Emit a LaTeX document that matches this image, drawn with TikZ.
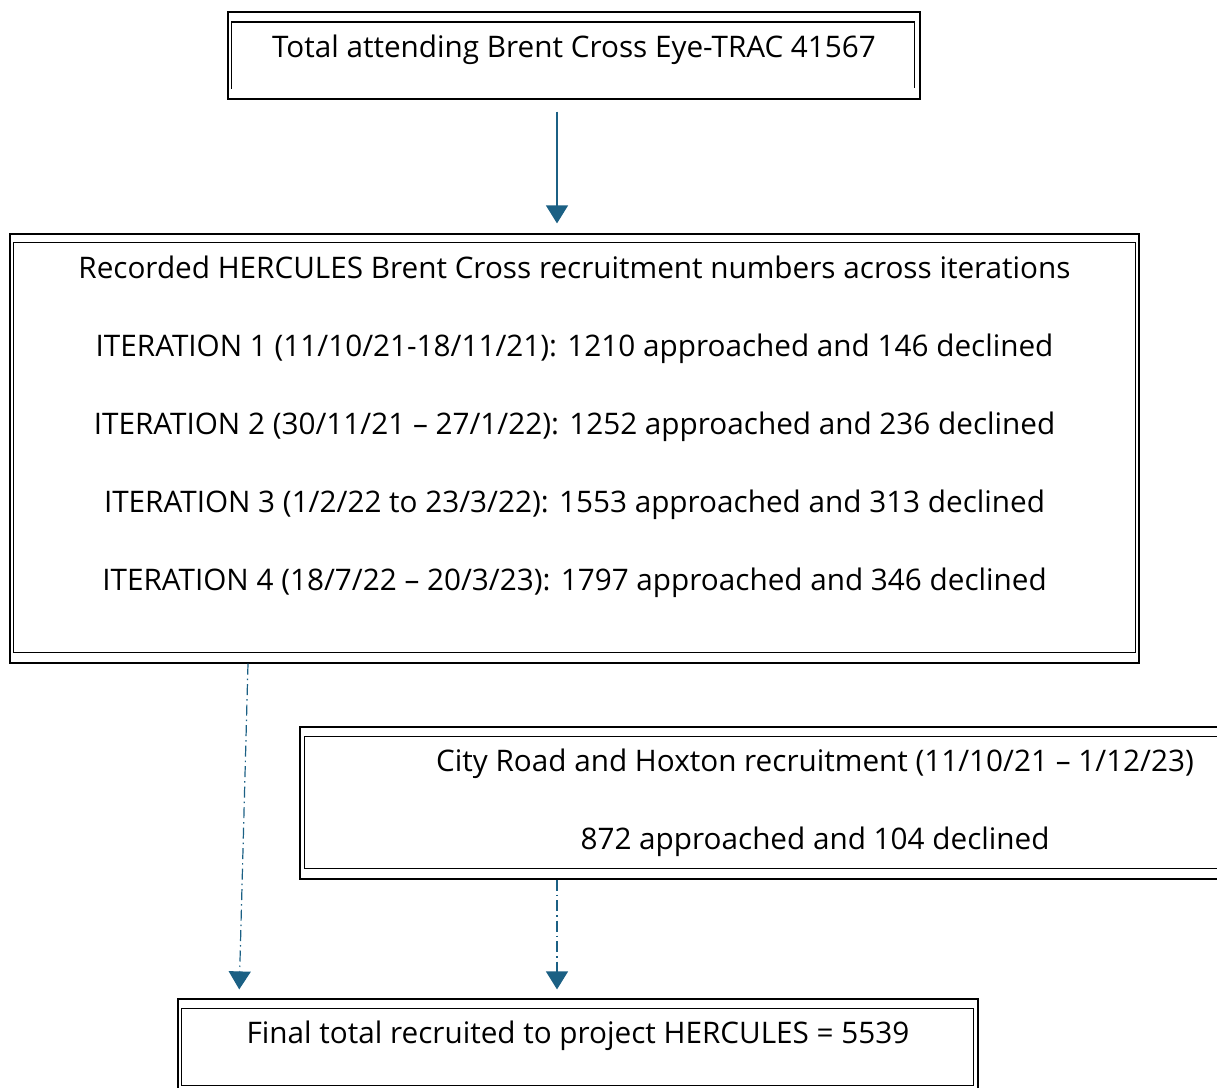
\documentclass[tikz,border=0pt]{standalone}
\usepackage{fontspec}
\setmainfont{Open Sans}
\usetikzlibrary{arrows.meta, positioning}
\definecolor{arrowblue}{RGB}{27,96,132}

\begin{document}
\begin{tikzpicture}[x=0.5pt, y=-0.5pt,
  box/.style = {rectangle, draw, line width=0.6pt, inner sep=0pt},
  inbox/.style = {line width=0.55pt},
  txt/.style = {font=\fontsize{14.85pt}{17pt}\selectfont, inner sep=0pt, anchor=base},
  arrow/.style = {draw=arrowblue, line width=0.6pt, -{Triangle[width=11pt,length=9pt]}},
  dasharrow/.style = {arrow, dash pattern=on 5.5pt off 2pt on 0.75pt off 2pt}
                    ]
\useasboundingbox (0,0) rectangle (1217,1088);
\node (total) [box, minimum width=346pt, minimum height=43.5pt] at (574,55.5) {};
\node (main)  [box, minimum width=564.5pt, minimum height=214.5pt] at (574.5,448.5) {};
\node (city)  [box, minimum width=515pt, minimum height=76pt] at (815,803) {};
\node (final) [box, minimum width=400pt, minimum height=45.5pt] at (578,1044.5) {};
% inner lines of the boxes
\draw [inbox] ([xshift=2pt]total.south west) ++(0,5.5pt) |- ([xshift=-3pt,yshift=-5.3pt]total.north east) -- ++(0,-33pt);
\draw [inbox] ([xshift=2pt,yshift=-4.5pt]main.north west) rectangle ([xshift=-2pt,yshift=5.5pt]main.south east);
\draw [inbox] ([xshift=2.5pt,yshift=-5pt]city.north west) rectangle ([xshift=-2.5pt,yshift=5.5pt]city.south east);
\draw [inbox] ([xshift=2pt,yshift=-5pt]final.north west) rectangle ([xshift=-2.5pt,yshift=2.5pt]final.south east);
% texts
\node (totalT) [txt] at (574,57) {Total attending Brent Cross Eye-TRAC 41567};
\node (rec)  [txt] at (574.5,278) {Recorded HERCULES Brent Cross recruitment numbers across iterations};
\node (it1)  [txt] at (574.5,356) {ITERATION 1 (11/10/21-18/11/21): 1210 approached and 146 declined};
\node (it2)  [txt] at (574.5,434) {ITERATION 2 (30/11/21 – 27/1/22): 1252 approached and 236 declined};
\node (it3)  [txt] at (574.5,512) {ITERATION 3 (1/2/22 to 23/3/22): 1553 approached and 313 declined};
\node (it4)  [txt] at (574.5,590) {ITERATION 4 (18/7/22 – 20/3/23): 1797 approached and 346 declined};
\node (cityT)  [txt] at (815,771) {City Road and Hoxton recruitment (11/10/21 – 1/12/23)};
\node (cityN)  [txt] at (815,849) {872 approached and 104 declined};
\node (finalT) [txt] at (578,1043) {Final total recruited to project HERCULES = 5539};
% connections
\draw [arrow, shorten <=6pt, shorten >=5pt] ([xshift=-8.5pt]total.south) -- ([xshift=-8.75pt]main.north);
\draw [dasharrow, shorten >=4.5pt] ([xshift=-163.25pt]main.south) -- ([xshift=-169.5pt]final.north);
\draw [dasharrow, shorten >=4.5pt] ([xshift=-129pt]city.south) -- ([xshift=-10.5pt]final.north);
\end{tikzpicture}
\end{document}
